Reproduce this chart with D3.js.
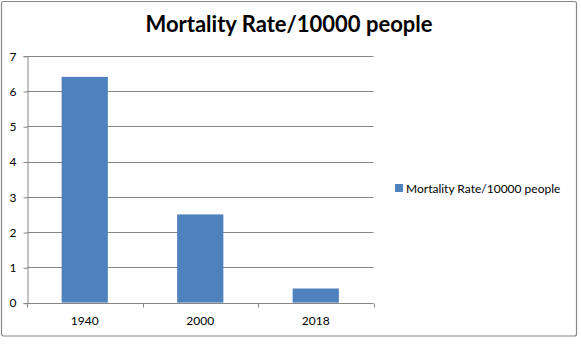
<!DOCTYPE html>
<html>
<head>
<meta charset="utf-8">
<script src="https://cdn.jsdelivr.net/npm/d3@7"></script>
<style>
  html, body { margin: 0; padding: 0; background: #fff; }
  svg { display: block; }
  text { font-family: Lato, "Open Sans", sans-serif; fill: #000; }
</style>
</head>
<body>
<svg id="chart" width="581" height="346"></svg>
<script>
// Data
const categories = ["1940", "2000", "2018"];
const mortality = [6.4, 2.5, 0.4];
const yTicks = [0, 1, 2, 3, 4, 5, 6, 7];
const seriesName = "Mortality Rate/10000 people";
const chartTitle = "Mortality Rate/10000 people";

const svg = d3.select("#chart");

// Outer chart frame
svg.append("rect")
  .attr("x", 1.5).attr("y", 1.5)
  .attr("width", 575).attr("height", 334.5)
  .attr("rx", 2)
  .attr("fill", "#fff")
  .attr("stroke", "#868686")
  .attr("stroke-width", 1.2);

// Title
svg.append("text")
  .attr("x", 289).attr("y", 32)
  .attr("text-anchor", "middle")
  .style("font-size", "22px")
  .style("font-weight", "bold")
  .text(chartTitle);

const plot = { left: 27, right: 373.5, top: 55.7, bottom: 302.6 };

const x = d3.scaleBand()
  .domain(categories)
  .range([plot.left, plot.right])
  .paddingInner(0.6)
  .paddingOuter(0.3);

const y = d3.scaleLinear()
  .domain([0, 7])
  .range([plot.bottom, plot.top]);

// Horizontal gridlines
svg.append("g")
  .selectAll("line")
  .data(yTicks.filter(d => d > 0))
  .join("line")
  .attr("x1", plot.left).attr("x2", plot.right)
  .attr("y1", d => Math.round(y(d)) + 0.5)
  .attr("y2", d => Math.round(y(d)) + 0.5)
  .attr("stroke", "#868686")
  .attr("stroke-width", 1);

// Bars
svg.append("g")
  .selectAll("rect")
  .data(categories.map((c, i) => ({ c, v: mortality[i] })))
  .join("rect")
  .attr("x", d => x(d.c))
  .attr("y", d => y(d.v))
  .attr("width", x.bandwidth())
  .attr("height", d => y(0) - y(d.v))
  .attr("fill", "#4F81BD");

// Y axis
const yAxis = d3.axisLeft(y)
  .tickValues(yTicks)
  .tickFormat(d3.format("d"))
  .tickSize(4)
  .tickPadding(7);
const gy = svg.append("g")
  .attr("transform", `translate(${plot.left + 0.5},0.5)`)
  .call(yAxis);
gy.select(".domain").attr("stroke", "#868686");
gy.selectAll(".tick line").attr("stroke", "#868686");
gy.selectAll(".tick text")
  .style("font-size", "12px")
  .style("font-family", "Lato, 'Open Sans', sans-serif");

// X axis: ticks at category boundaries
const boundaries = categories.map(c => x(c) - x.step() * x.paddingInner() / 2)
  .map((b, i) => i === 0 ? plot.left : b);
boundaries.push(plot.right);
const gx = svg.append("g").attr("transform", `translate(0,${Math.round(plot.bottom) + 0.5})`);
gx.append("line")
  .attr("x1", plot.left).attr("x2", plot.right)
  .attr("stroke", "#868686");
gx.selectAll("line.tk")
  .data(boundaries)
  .join("line")
  .attr("class", "tk")
  .attr("x1", d => Math.round(d) + 0.5).attr("x2", d => Math.round(d) + 0.5)
  .attr("y1", 0).attr("y2", 4)
  .attr("stroke", "#868686");
gx.selectAll("text")
  .data(categories)
  .join("text")
  .attr("x", d => x(d) + x.bandwidth() / 2)
  .attr("y", 21)
  .attr("text-anchor", "middle")
  .style("font-size", "12px")
  .text(d => d);

// Legend
const lg = svg.append("g").attr("transform", "translate(395,184)");
lg.append("rect")
  .attr("width", 8).attr("height", 8)
  .attr("fill", "#4F81BD");
lg.append("text")
  .attr("x", 11).attr("y", 8.5)
  .style("font-size", "12px")
  .text(seriesName);
</script>
</body>
</html>
